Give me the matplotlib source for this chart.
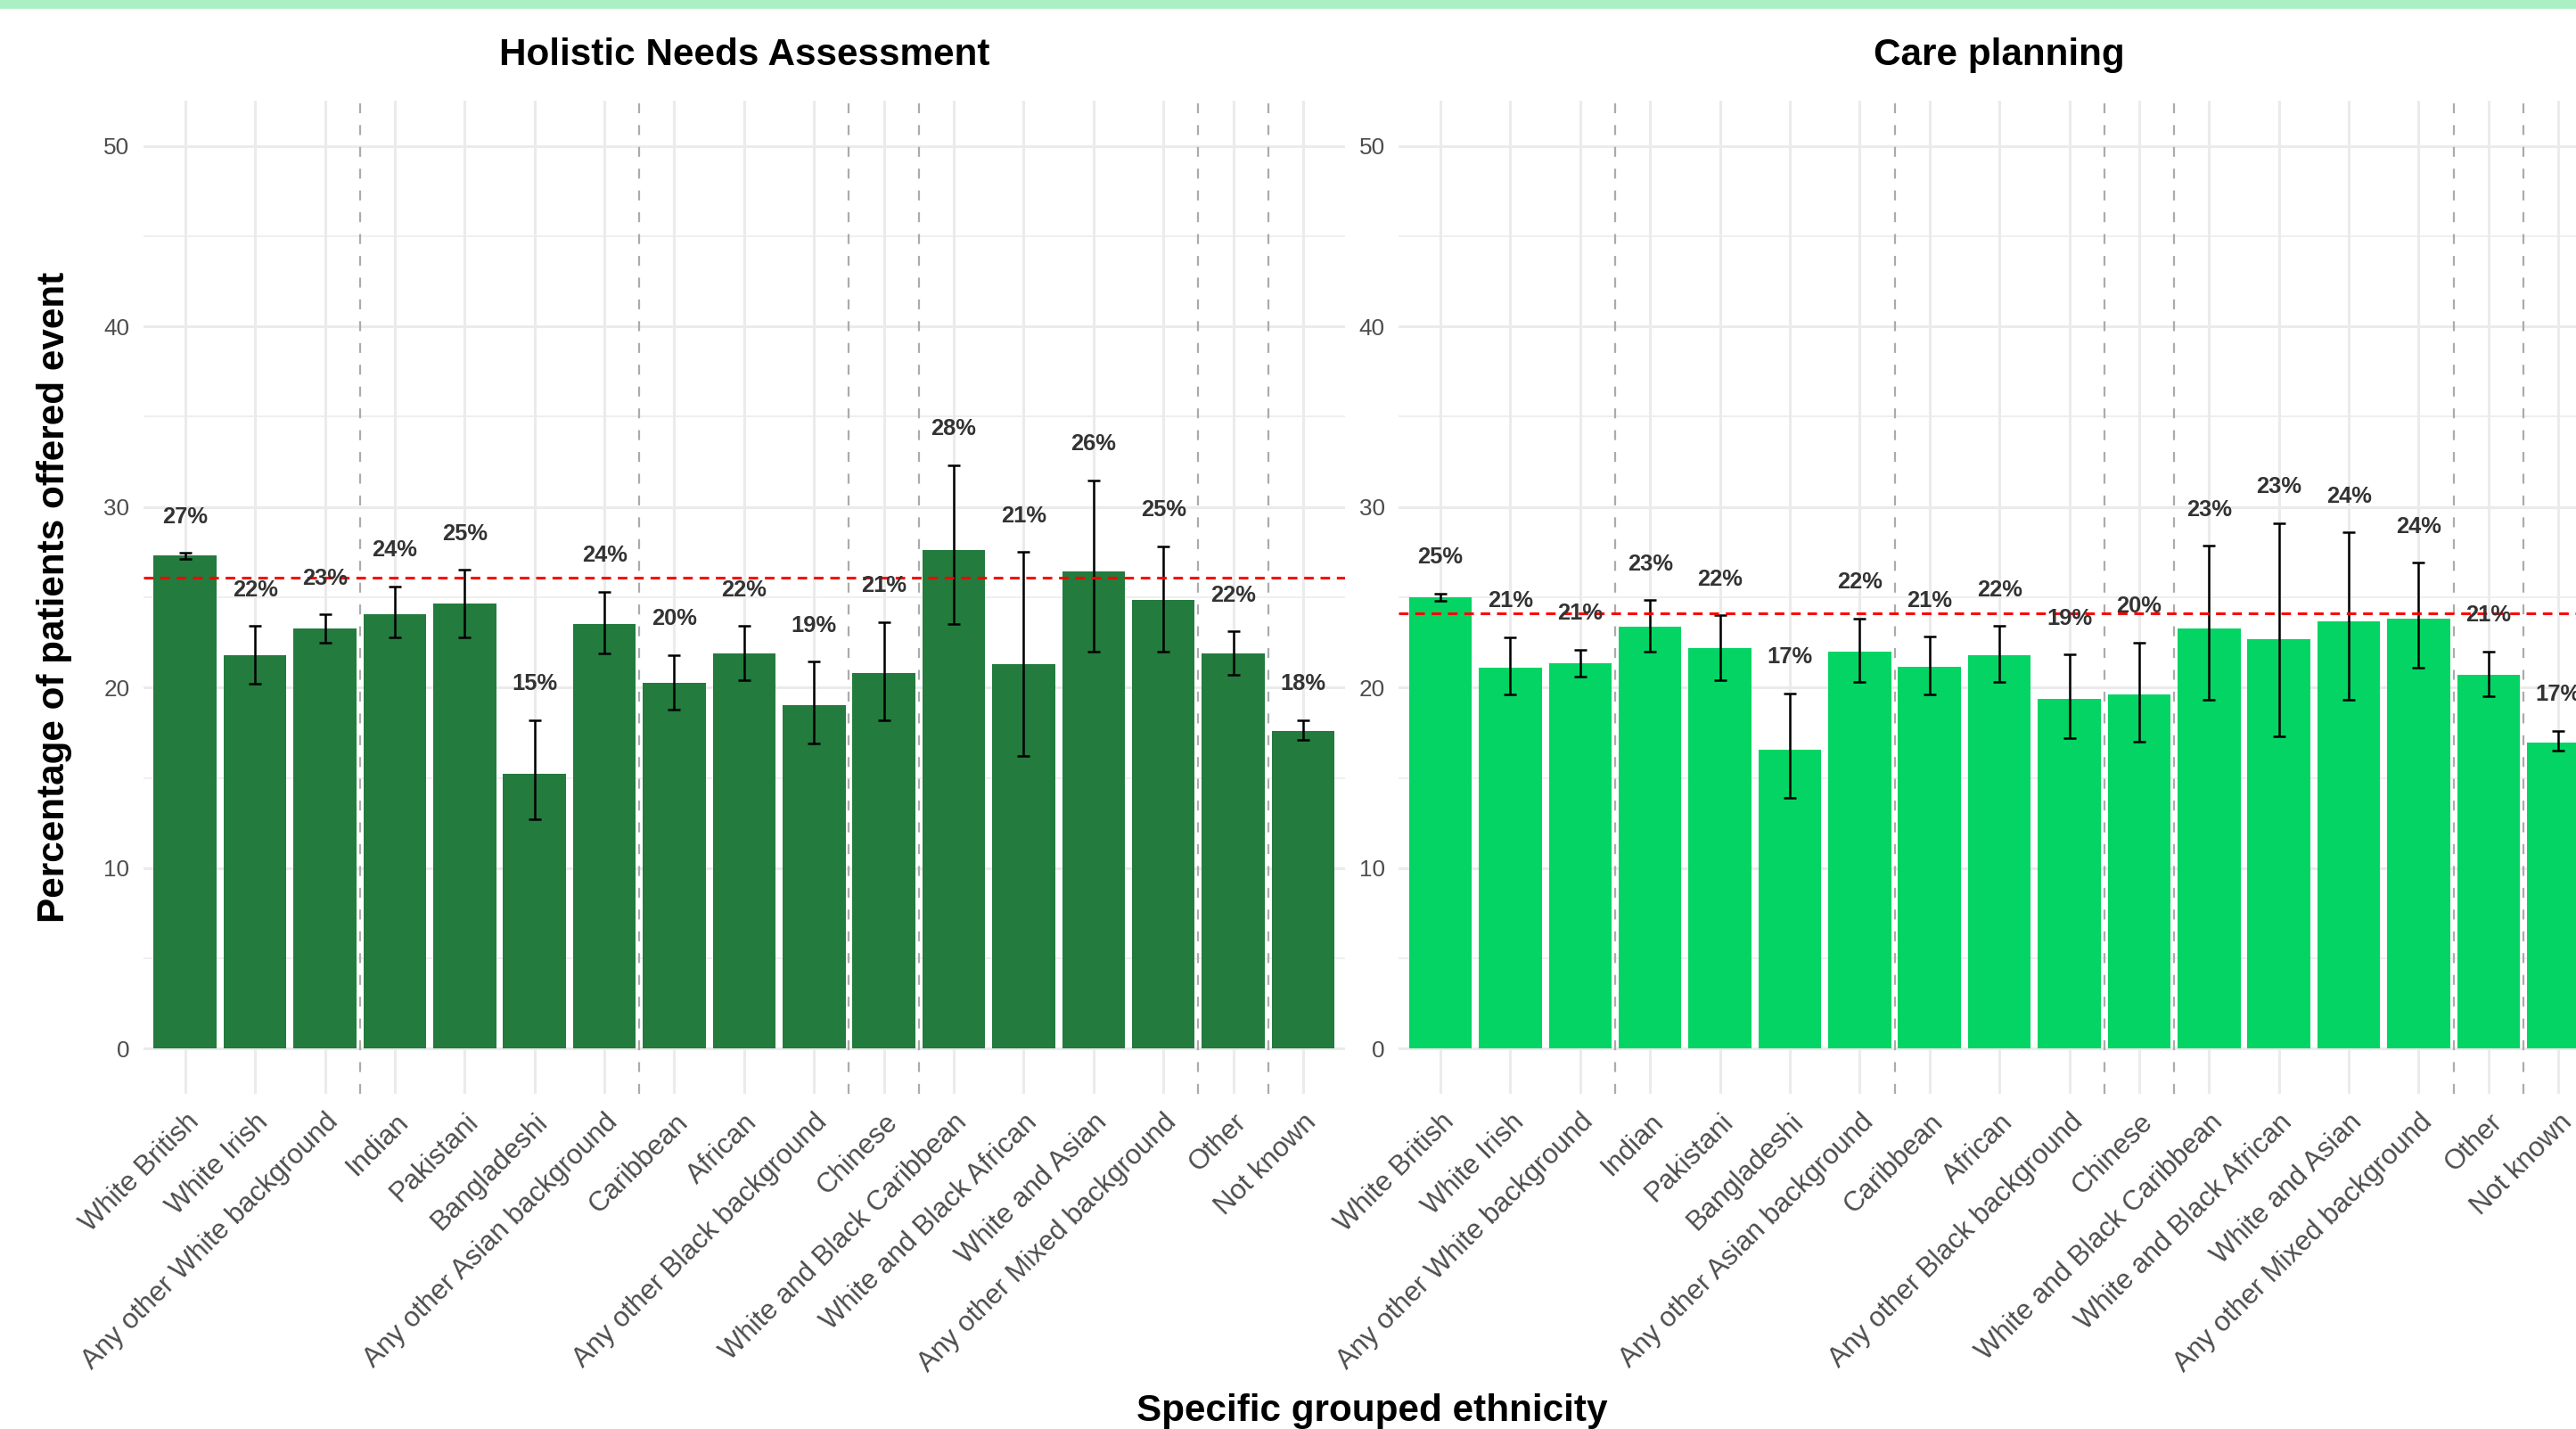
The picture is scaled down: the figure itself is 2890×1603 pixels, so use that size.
import matplotlib
matplotlib.use("Agg")
import matplotlib.pyplot as plt
from matplotlib.patches import Rectangle
from matplotlib.ticker import MultipleLocator

plt.rcParams['font.family'] = ['Liberation Sans', 'DejaVu Sans']

# categories (x order)
ethnicity = ['White British', 'White Irish', 'Any other White background',
             'Indian', 'Pakistani', 'Bangladeshi', 'Any other Asian background',
             'Caribbean', 'African', 'Any other Black background',
             'Chinese',
             'White and Black Caribbean', 'White and Black African', 'White and Asian',
             'Any other Mixed background',
             'Other', 'Not known']
# dashed separators between broad groups
group_breaks = [2.5, 6.5, 9.5, 10.5, 14.5, 15.5]

# Holistic Needs Assessment
hna_pct = [27.3, 21.8, 23.25, 24.07, 24.64, 15.2, 23.52, 20.28, 21.9, 19.02,
           20.78, 27.6, 21.3, 26.45, 24.84, 21.9, 17.59]
hna_lo = [27.1, 20.19, 22.49, 22.8, 22.8, 12.7, 21.9, 18.8, 20.4, 16.89,
          18.19, 23.54, 16.2, 22.0, 22.0, 20.7, 17.11]
hna_hi = [27.45, 23.41, 24.05, 25.6, 26.52, 18.21, 25.32, 21.8, 23.41, 21.43,
          23.64, 32.32, 27.5, 31.49, 27.83, 23.1, 18.19]
hna_avg = 26.1

# Care planning
cp_pct = [25.0, 21.1, 21.36, 23.38, 22.17, 16.55, 21.98, 21.16, 21.78, 19.39,
          19.6, 23.25, 22.7, 23.67, 23.8, 20.7, 16.97]
cp_lo = [24.79, 19.6, 20.6, 22.0, 20.4, 13.9, 20.29, 19.6, 20.29, 17.19,
         17.0, 19.3, 17.3, 19.3, 21.1, 19.5, 16.5]
cp_hi = [25.22, 22.8, 22.1, 24.83, 24.0, 19.69, 23.82, 22.81, 23.4, 21.82,
         22.5, 27.84, 29.11, 28.6, 26.92, 22.0, 17.6]
cp_avg = 24.1

W, H = 2890, 1603
fig = plt.figure(figsize=(W / 200, H / 200), dpi=200)
fig.patches.append(Rectangle((0, 1 - 8 / H), 1, 8 / H, transform=fig.transFigure,
                             color='#ABF0C2', zorder=0))

panels = [
    ('Holistic Needs Assessment', hna_pct, hna_lo, hna_hi, hna_avg, '#237B3D', 160.7),
    ('Care planning', cp_pct, cp_lo, cp_hi, cp_avg, '#03D463', 1569.0),
]
pw = (1509 - 160.7) / W
for title, pct, lo, hi, avg, col, left_px in panels:
    ax = fig.add_axes([left_px / W, 1 - 1227 / H, pw, (1227 - 113) / H])
    x = list(range(len(ethnicity)))
    ax.set_xlim(-0.6, len(ethnicity) - 0.4)
    ax.set_ylim(-2.5, 52.5)
    ax.yaxis.set_major_locator(MultipleLocator(10))
    ax.yaxis.set_minor_locator(MultipleLocator(5))
    ax.grid(which='major', color='#EBEBEB', lw=1.1)
    ax.grid(which='minor', axis='y', color='#EBEBEB', lw=0.55)
    ax.set_axisbelow(True)
    for s in ax.spines.values():
        s.set_visible(False)
    for b in group_breaks:
        ax.axvline(b, color='#ABABAB', lw=0.8, ls=(0, (5, 6)), zorder=1)

    ax.bar(x, pct, width=0.9, color=col, zorder=2)
    yerr = [[p - l for p, l in zip(pct, lo)], [h - p for p, h in zip(pct, hi)]]
    ax.errorbar(x, pct, yerr=yerr, fmt='none', ecolor='black', elinewidth=0.9,
                capsize=2.4, capthick=0.9, zorder=3)
    ax.axhline(avg, color='#FF0000', lw=1.1, ls=(0, (3.5, 2.5)), zorder=4)
    for xi, p, h in zip(x, pct, hi):
        ax.text(xi, h + 2, f"{p:.0f}%", ha='center', va='center', fontsize=9.2,
                fontweight='bold', color='#333333', zorder=5)

    ax.set_xticks(x)
    ax.set_xticklabels(ethnicity, rotation=45, ha='right', va='top',
                       rotation_mode='anchor', fontsize=11.2, color='#4D4D4D')
    ax.tick_params(axis='both', which='both', length=0)
    ax.tick_params(axis='x', pad=6)
    ax.tick_params(axis='y', labelsize=9.4, labelcolor='#4D4D4D', pad=5.5)

    cx = (left_px + (left_px + pw * W)) / 2 / W
    fig.text(cx, 1 - 62 / H, title, ha='center', va='center', fontsize=15.2,
             fontweight='bold', color='black')

fig.text(61 / W, 1 - 670 / H, 'Percentage of patients offered event', rotation=90,
         ha='center', va='center', fontsize=15.2, fontweight='bold')
fig.text(1539 / W, 1 - 1583 / H, 'Specific grouped ethnicity', ha='center',
         va='center', fontsize=15.2, fontweight='bold')

fig.savefig('out.png', dpi=200, facecolor='white')
